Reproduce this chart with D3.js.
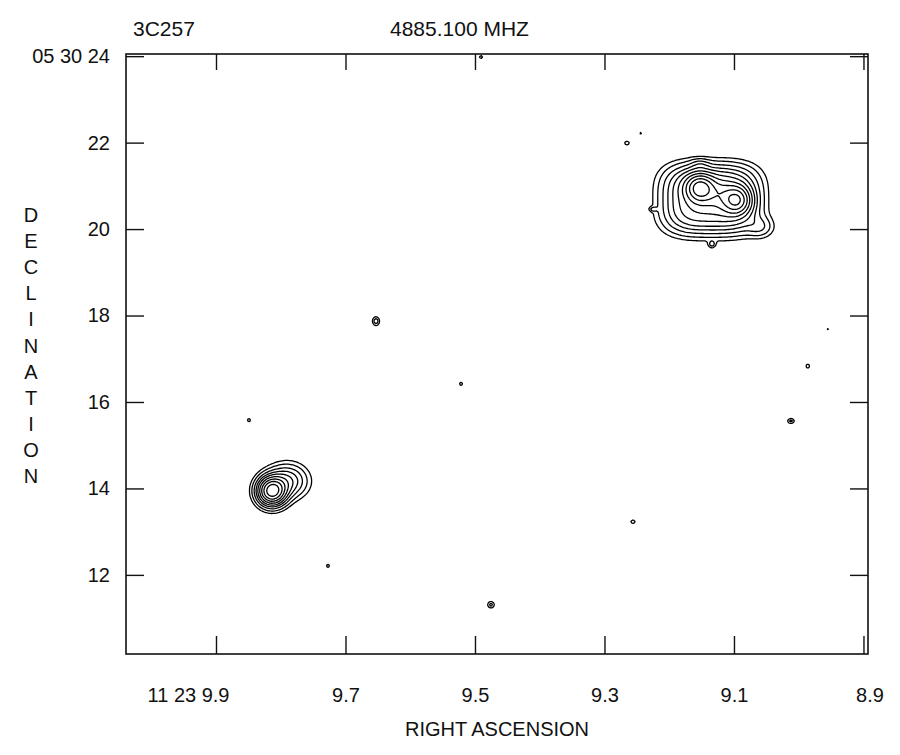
<!DOCTYPE html>
<meta charset="utf-8">
<style>
  body { margin: 0; background: #fff; }
  text { font-family: "Liberation Sans", Arial, Helvetica, sans-serif; fill: #111; }
</style>
<body>
<script src="https://cdn.jsdelivr.net/npm/d3@7"></script>
<script>

    var width = 900,
        height = 755;

    // axis ticks and labels
    var raTicks = [9.9, 9.7, 9.5, 9.3, 9.1, 8.9];
    var raLabels = ["11 23 9.9", "9.7", "9.5", "9.3", "9.1", "8.9"];
    var decTicks = [24, 22, 20, 18, 16, 14, 12];
    var decLabels = ["05 30 24", "22", "20", "18", "16", "14", "12"];

    // contour levels (fraction of peak)
    var levels = [0.025, 0.05, 0.09, 0.14, 0.2, 0.28, 0.38, 0.5, 0.65, 0.82];

    // source components: [ra (s), dec ("), amplitude, half size ra ("), half size dec ("), shape exponent]
    var westSource = [
        [9.136, 20.69, 0.40, 0.97, 0.70, 3.2],
        [9.1525, 20.95, 0.60, 0.29, 0.29, 2],
        [9.0954, 20.67, 0.55, 0.29, 0.29, 2],
        [9.1232, 20.79, 0.15, 0.35, 0.30, 2],
        [9.1525, 21.50, 0.05, 0.20, 0.12, 2],
        [9.060, 20.05, 0.08, 0.28, 0.22, 2],
        [9.225, 20.46, 0.05, 0.08, 0.05, 2],
        [9.134, 19.65, 0.06, 0.08, 0.08, 2]
    ];
    var eastSource = [
        [9.8135, 13.94, 0.75, 0.28, 0.28, 2],
        [9.790, 14.17, 0.20, 0.39, 0.33, 2]
    ];
    // faint specks of noise
    var specks = [
        [9.4907, 23.98, 0.04, 0.05, 0.05, 2],
        [9.2653, 21.99, 0.05, 0.06, 0.05, 2],
        [9.2436, 22.22, 0.035, 0.04, 0.04, 2],
        [9.6529, 17.87, 0.07, 0.08, 0.10, 2],
        [9.5216, 16.42, 0.04, 0.05, 0.05, 2],
        [9.849, 15.58, 0.04, 0.05, 0.05, 2],
        [9.727, 12.21, 0.04, 0.05, 0.05, 2],
        [9.4753, 11.31, 0.06, 0.08, 0.08, 2],
        [9.256, 13.23, 0.045, 0.06, 0.05, 2],
        [9.307, 12.97, 0.03, 0.04, 0.04, 2],
        [8.986, 16.83, 0.045, 0.05, 0.06, 2],
        [8.955, 17.69, 0.03, 0.04, 0.04, 2],
        [9.012, 15.56, 0.06, 0.08, 0.06, 2]
    ];

    var svg = d3.select("body").append("svg")
            .attr("width", width)
            .attr("height", height);

    var x = d3.scaleLinear().domain([10.039, 8.893]).range([126, 868]);
    var y = d3.scaleLinear().domain([10.17, 24.05]).range([654, 54]);

    // ra seconds -> arcsec at dec +05 30
    var secToArc = 14.93;
    var comps = westSource.concat(eastSource, specks);

    function field(ra, dec) {
        var v = 0;
        for (var k = 0; k < comps.length; k++) {
            var c = comps[k];
            var dx = Math.abs((ra - c[0]) * secToArc) / c[3],
                dy = Math.abs(dec - c[1]) / c[4];
            if (dx > 4 || dy > 4) continue;
            v += c[2] * Math.exp(-(Math.pow(dx, c[5]) + Math.pow(dy, c[5])));
        }
        return v;
    }

    var n = 500, m = 400;
    var raLeft = x.domain()[0], raStep = (x.domain()[1] - x.domain()[0]) / (n - 1);
    var decTop = y.domain()[1], decStep = (y.domain()[0] - y.domain()[1]) / (m - 1);
    var values = new Float64Array(n * m);
    for (var j = 0; j < m; j++) {
        for (var i = 0; i < n; i++) {
            values[i + j * n] = field(raLeft + i * raStep, decTop + j * decStep);
        }
    }

    var contours = d3.contours().size([n, m]).thresholds(levels)(values);

    var gridToScreen = d3.geoTransform({
        point: function(gx, gy) {
            this.stream.point(x(raLeft + (gx - 0.5) * raStep), y(decTop + (gy - 0.5) * decStep));
        }
    });
    var path = d3.geoPath(gridToScreen);

    svg.append("clipPath").attr("id", "plot")
        .append("rect")
        .attr("x", x.range()[0]).attr("y", y.range()[1])
        .attr("width", x.range()[1] - x.range()[0])
        .attr("height", y.range()[0] - y.range()[1]);

    svg.append("g")
        .attr("clip-path", "url(#plot)")
        .selectAll("path")
        .data(contours)
        .enter().append("path")
        .attr("d", path)
        .attr("fill", "none")
        .attr("stroke", "#000")
        .attr("stroke-width", 1.3)
        .attr("stroke-linejoin", "round");

    // axes, ticks drawn inward
    var bottom = svg.append("g")
        .attr("transform", "translate(0," + y.range()[0] + ")")
        .call(d3.axisBottom(x).tickValues(raTicks).tickSize(-18).tickPadding(34)
            .tickFormat(function(d, i) { return raLabels[i]; }));
    bottom.selectAll("text").style("font-size", "20px");
    bottom.selectAll(".tick").filter(function(d, i) { return i === 0; })
        .select("text").attr("text-anchor", "end").attr("x", 13);
    bottom.selectAll(".tick").filter(function(d, i) { return i === raTicks.length - 1; })
        .select("text").attr("x", 6);

    svg.append("g")
        .attr("transform", "translate(0," + y.range()[1] + ")")
        .call(d3.axisTop(x).tickValues(raTicks).tickSize(-16).tickFormat(""));

    var left = svg.append("g")
        .attr("transform", "translate(" + x.range()[0] + ",0)")
        .call(d3.axisLeft(y).tickValues(decTicks).tickSize(-18).tickPadding(16)
            .tickFormat(function(d, i) { return decLabels[i]; }));
    left.selectAll("text").style("font-size", "20px");

    svg.append("g")
        .attr("transform", "translate(" + x.range()[1] + ",0)")
        .call(d3.axisRight(y).tickValues(decTicks).tickSize(-18).tickFormat(""));

    svg.selectAll(".domain").remove();
    svg.selectAll(".tick line").attr("stroke", "#111").attr("stroke-width", 1.4);

    svg.append("rect")
        .attr("x", x.range()[0]).attr("y", y.range()[1])
        .attr("width", x.range()[1] - x.range()[0])
        .attr("height", y.range()[0] - y.range()[1])
        .attr("fill", "none")
        .attr("stroke", "#111")
        .attr("stroke-width", 1.6);

    // titles
    svg.append("text").attr("x", 133).attr("y", 36)
        .style("font-size", "21px").text("3C257");
    svg.append("text").attr("x", 390).attr("y", 36)
        .style("font-size", "21px").text("4885.100 MHZ");

    svg.append("text")
        .attr("x", (x.range()[0] + x.range()[1]) / 2).attr("y", 736)
        .attr("text-anchor", "middle")
        .style("font-size", "20px").text("RIGHT ASCENSION");

    svg.append("g").selectAll("text")
        .data("DECLINATION".split(""))
        .enter().append("text")
        .attr("x", 31)
        .attr("y", function(d, i) { return 222 + i * 26.1; })
        .attr("text-anchor", "middle")
        .style("font-size", "20px")
        .text(function(d) { return d; });

</script>
